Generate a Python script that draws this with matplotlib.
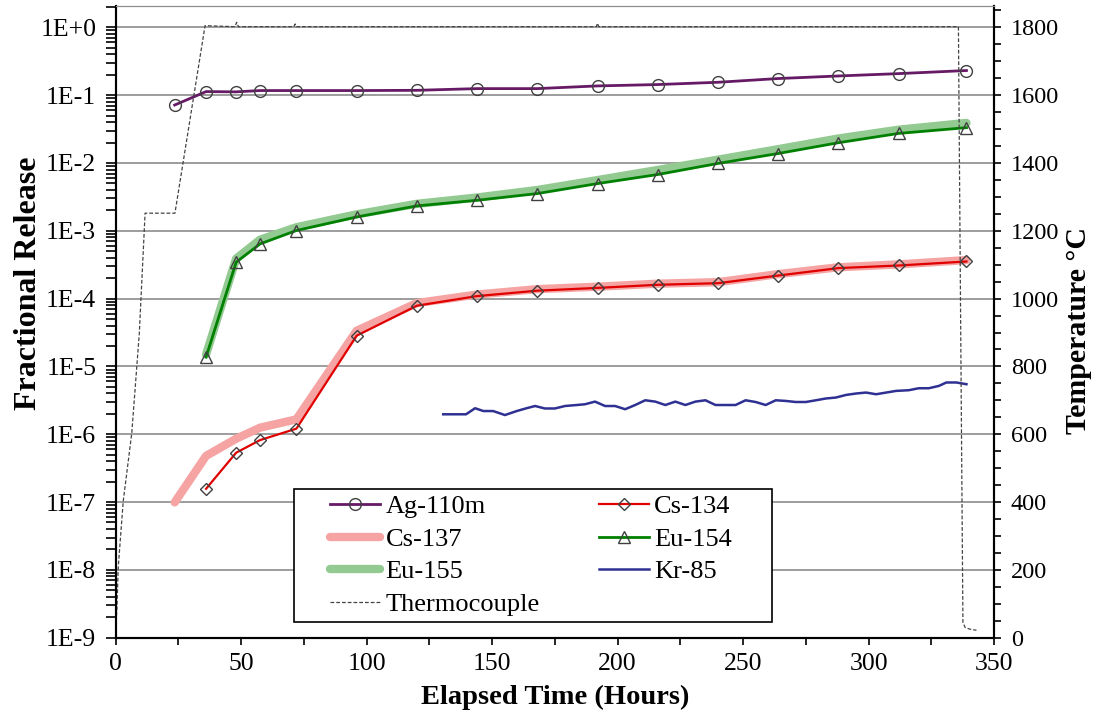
import matplotlib
matplotlib.use("Agg")
import matplotlib.pyplot as plt
from matplotlib.patches import Rectangle
from matplotlib.ticker import FixedLocator, NullFormatter, MultipleLocator, LogLocator

plt.rcParams['font.family'] = ['Liberation Serif', 'DejaVu Serif']

# ---------------- data ----------------
t_ag = [23.5, 36, 48, 57.5, 72, 96, 120, 144, 168, 192, 216, 240, 264, 288, 312, 339]
ag110m = [0.0716, 0.113, 0.112, 0.117, 0.117, 0.117, 0.118, 0.125, 0.125, 0.137,
          0.1435, 0.155, 0.176, 0.192, 0.208, 0.231]

t_cs134 = [36, 48, 57.5, 72, 96, 120, 144, 168, 192, 216, 240, 264, 288, 312, 339]
cs134 = [1.57e-7, 5.35e-7, 8.2e-7, 1.21e-6, 2.84e-5, 7.87e-5, 1.09e-4, 1.31e-4, 1.44e-4,
         1.6e-4, 1.69e-4, 2.19e-4, 2.82e-4, 3.08e-4, 3.53e-4]

t_cs137 = [23.5, 36, 48, 57.5, 72, 96, 120, 144, 168, 192, 216, 240, 264, 288, 312, 339]
cs137 = [9.9e-8, 4.8e-7, 8.6e-7, 1.25e-6, 1.66e-6, 3.36e-5, 8.6e-5, 1.15e-4, 1.38e-4, 1.5e-4,
         1.66e-4, 1.75e-4, 2.3e-4, 2.9e-4, 3.2e-4, 3.7e-4]

t_eu = [36, 48, 57.5, 72, 96, 120, 144, 168, 192, 216, 240, 264, 288, 312, 339]
eu154 = [1.38e-5, 3.45e-4, 6.4e-4, 1.01e-3, 1.6e-3, 2.33e-3, 2.82e-3, 3.54e-3, 4.97e-3,
         6.76e-3, 9.85e-3, 1.38e-2, 1.99e-2, 2.73e-2, 3.32e-2]
eu155 = [1.5e-5, 3.9e-4, 7.4e-4, 1.13e-3, 1.75e-3, 2.5e-3, 3.1e-3, 4.0e-3, 5.6e-3,
         7.9e-3, 1.12e-2, 1.6e-2, 2.3e-2, 3.1e-2, 3.9e-2]

t_kr = [130.5, 139.6, 143.2, 146.5, 150.4, 155.1, 159.8, 163.7, 167.1, 171, 175, 179, 183.7,
        187, 191, 195, 199, 203, 207, 211, 215, 219, 223, 227, 231, 235, 239, 243, 247, 251,
        255, 259, 263, 267, 271, 275, 279, 283, 287, 291, 295, 299, 303, 307, 311, 316, 320,
        324, 328, 331, 335, 339]
kr85 = [1.97e-6, 1.97e-6, 2.42e-6, 2.20e-6, 2.20e-6, 1.92e-6, 2.20e-6, 2.42e-6, 2.61e-6,
        2.40e-6, 2.40e-6, 2.61e-6, 2.70e-6, 2.77e-6, 3.03e-6, 2.61e-6, 2.61e-6, 2.34e-6,
        2.70e-6, 3.17e-6, 3.03e-6, 2.70e-6, 3.03e-6, 2.70e-6, 3.03e-6, 3.17e-6, 2.70e-6,
        2.70e-6, 2.70e-6, 3.17e-6, 2.99e-6, 2.70e-6, 3.17e-6, 3.10e-6, 2.99e-6, 2.99e-6,
        3.17e-6, 3.37e-6, 3.48e-6, 3.80e-6, 3.99e-6, 4.12e-6, 3.89e-6, 4.12e-6, 4.36e-6,
        4.46e-6, 4.77e-6, 4.77e-6, 5.16e-6, 5.80e-6, 5.80e-6, 5.47e-6]

t_tc = [0.0, 0.5, 1.0, 3.0, 6.4, 9.4, 11.7, 23.6, 35.6, 47.5, 48.2, 48.9, 71.0, 71.5, 72.0,
        191.5, 192.0, 192.5, 335.8, 337.6, 338.5, 340.5, 343.0]
temp_tc = [30, 90, 208, 403, 604, 898, 1252, 1252, 1805, 1802, 1815, 1802, 1802, 1810, 1802,
           1802, 1812, 1802, 1802, 45, 30, 25, 22]

ytick_vals = [1e-9, 1e-8, 1e-7, 1e-6, 1e-5, 1e-4, 1e-3, 1e-2, 1e-1, 1e0]
ytick_labels = ['1E-9', '1E-8', '1E-7', '1E-6', '1E-5', '1E-4', '1E-3', '1E-2', '1E-1', '1E+0']

# ---------------- figure ----------------
fig = plt.figure(figsize=(10.99, 7.15), dpi=100)
ax = fig.add_axes([0.1053, 0.1081, 0.7992, 0.8835])
ax2 = ax.twinx()

ax.set_yscale('log')
top_log = 0.315
ax.set_ylim(1e-9, 10 ** top_log)
ax2.set_ylim(0, 1800 * (9 + top_log) / 9)
ax.set_xlim(0, 350)

for v in ytick_vals:
    ax.axhline(v, color='#8c8c8c', lw=1.2, zorder=0)

mk = dict(markerfacecolor='none', markeredgecolor='#404040', markeredgewidth=1.0)

l_cs137, = ax.plot(t_cs137, cs137, color='#f5a3a3', lw=6, solid_capstyle='round',
                   solid_joinstyle='round', label='Cs-137', zorder=2)
l_eu155, = ax.plot(t_eu, eu155, color='#92ca92', lw=6, solid_capstyle='round',
                   solid_joinstyle='round', label='Eu-155', zorder=2)
l_ag, = ax.plot(t_ag, ag110m, color='#661a66', lw=2.0, marker='o', ms=8.5, label='Ag-110m',
                zorder=3, **mk)
l_cs134, = ax.plot(t_cs134, cs134, color='#e00000', lw=1.6, marker='D', ms=6.5, label='Cs-134',
                   zorder=3, **mk)
l_eu154, = ax.plot(t_eu, eu154, color='#008000', lw=2.0, marker='^', ms=8, label='Eu-154',
                   zorder=3, **mk)
l_kr, = ax.plot(t_kr, kr85, color='#2e3192', lw=1.8, label='Kr-85', zorder=3)

l_tc, = ax2.plot(t_tc, temp_tc, color='#444444', lw=0.9, linestyle=(0, (3, 1.6)),
                 label='Thermocouple', zorder=1)

# ticks
ax.yaxis.set_major_locator(FixedLocator(ytick_vals))
ax.set_yticklabels(ytick_labels)
ax.yaxis.set_minor_locator(LogLocator(base=10, subs=range(2, 10), numticks=20))
ax.yaxis.set_minor_formatter(NullFormatter())
ax.xaxis.set_major_locator(MultipleLocator(50))
ax.xaxis.set_minor_locator(MultipleLocator(25))
ax2.yaxis.set_major_locator(MultipleLocator(200))
ax2.yaxis.set_minor_locator(MultipleLocator(50))

ax.tick_params(axis='y', which='both', direction='out', length=7, width=1.2, labelsize=18.5,
               pad=7, right=False)
ax.tick_params(axis='x', which='both', direction='out', length=5, width=1.2, labelsize=18.5,
               pad=6, top=False)
ax2.tick_params(axis='y', which='both', direction='out', length=5, width=1.2, labelsize=17.5,
                pad=7)

for a in (ax, ax2):
    a.spines['top'].set_color('#8c8c8c')
    a.spines['left'].set_linewidth(1.5)
    a.spines['right'].set_linewidth(1.5)
    a.spines['bottom'].set_linewidth(1.5)

ax.set_xlabel('Elapsed Time (Hours)', fontsize=20.5, fontweight='bold', labelpad=7)
ax.set_ylabel('Fractional Release', fontsize=23, fontweight='bold')
ax.yaxis.set_label_coords(-0.083, 0.561)
ax2.set_ylabel('Temperature °C', fontsize=21.5, fontweight='bold')
ax2.yaxis.set_label_coords(1.081, 0.487)

# legend frame drawn separately, legend content without frame
frame = Rectangle((0.203, 0.0249), 0.5442, 0.2105, transform=ax2.transAxes,
                  facecolor='white', edgecolor='black', lw=1.2, zorder=9)
ax2.add_patch(frame)
handles = [l_ag, l_cs137, l_eu155, l_tc, l_cs134, l_eu154, l_kr]
leg = ax2.legend(handles=handles, labels=[h.get_label() for h in handles], ncol=2,
                 loc='upper left', bbox_to_anchor=(0.244, 0.2259),
                 fontsize=19, frameon=False, handlelength=1.9, handletextpad=0.2,
                 labelspacing=0.34, columnspacing=2.24, borderpad=0, borderaxespad=0)
leg.set_zorder(10)

fig.savefig('out.png', dpi=100)
